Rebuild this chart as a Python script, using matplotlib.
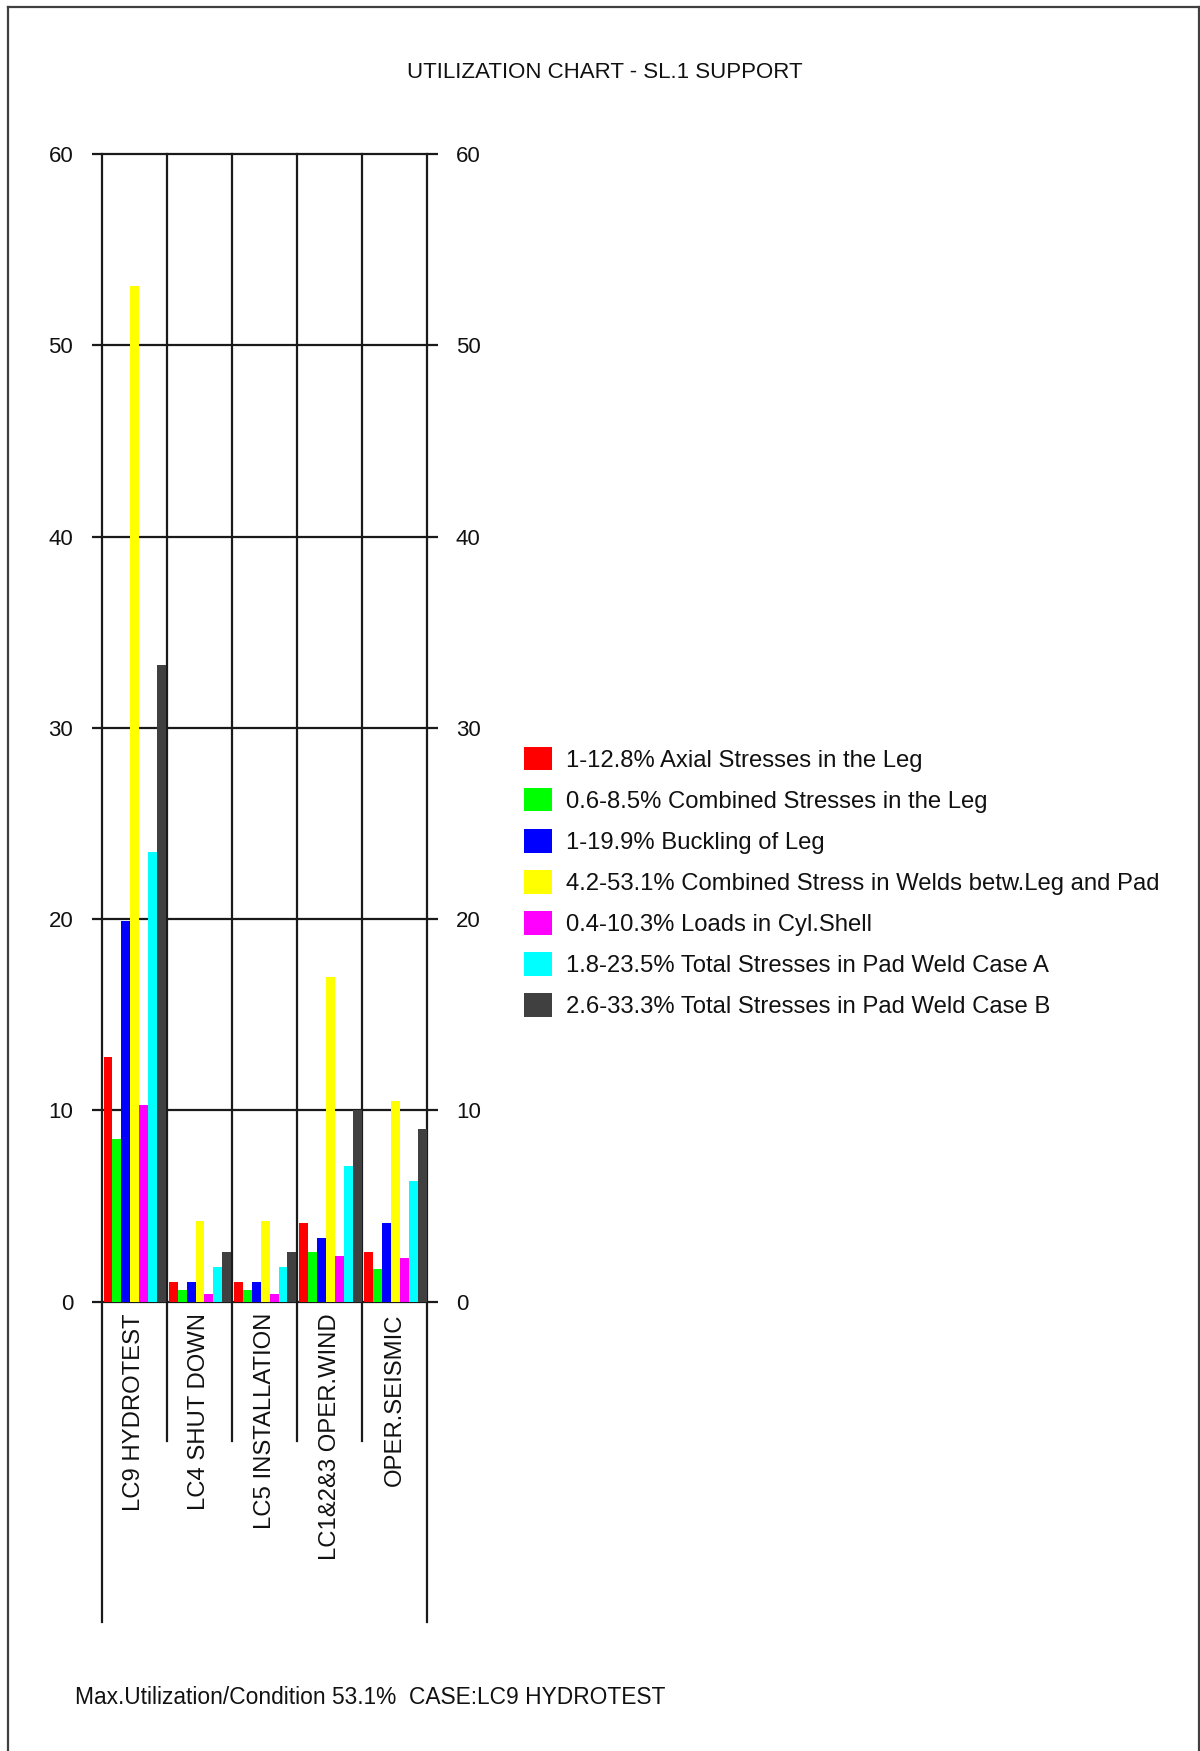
import matplotlib
matplotlib.use("Agg")
import matplotlib.pyplot as plt
import numpy as np

plt.rcParams["font.family"] = ["Liberation Sans", "DejaVu Sans"]

# ---- data -----------------------------------------------------------------
categories = ["LC9 HYDROTEST", "LC4 SHUT DOWN", "LC5 INSTALLATION",
              "LC1&2&3 OPER.WIND", "OPER.SEISMIC"]

series_names = ["Axial Stresses in the Leg",
                "Combined Stresses in the Leg",
                "Buckling of Leg",
                "Combined Stress in Welds betw.Leg and Pad",
                "Loads in Cyl.Shell",
                "Total Stresses in Pad Weld Case A",
                "Total Stresses in Pad Weld Case B"]

axial = [12.8, 1.0, 1.0, 4.1, 2.6]
combined_leg = [8.5, 0.6, 0.6, 2.6, 1.7]
buckling = [19.9, 1.0, 1.0, 3.3, 4.1]
weld_leg_pad = [53.1, 4.2, 4.2, 17.0, 10.5]
cyl_shell = [10.3, 0.4, 0.4, 2.4, 2.3]
pad_weld_a = [23.5, 1.8, 1.8, 7.1, 6.3]
pad_weld_b = [33.3, 2.6, 2.6, 10.0, 9.0]

y_ticks = [0, 10, 20, 30, 40, 50, 60]

series_values = [axial, combined_leg, buckling, weld_leg_pad,
                 cyl_shell, pad_weld_a, pad_weld_b]
series_colors = ["#ff0000", "#00ff00", "#0000ff", "#ffff00",
                 "#ff00ff", "#00ffff", "#404040"]

# ---- figure ---------------------------------------------------------------
W, H = 1200, 1751
fig = plt.figure(figsize=(W / 100, H / 100), dpi=100)
fs = 16
fs_legend = 17.2
fs_cat = 17.2
fs_note = 16.4
ink = "#111111"

def fx(px):
    return px / W

def fy(py):
    return 1 - py / H

ax_left, ax_right = 101.6, 427.5
ax_top, ax_bottom = 154.2, 1301.6
ax = fig.add_axes([fx(ax_left), fy(ax_bottom),
                   fx(ax_right) - fx(ax_left), fy(ax_top) - fy(ax_bottom)])
ax.set_xlim(-0.5, len(categories) - 0.5)
ax.set_ylim(0, 60)
for s in ax.spines.values():
    s.set_visible(False)

line_kw = dict(color="#1a1a1a", linewidth=1.6, clip_on=False, zorder=1)

# horizontal grid, extending slightly past both sides as tick marks
px_per_x = (ax_right - ax_left) / len(categories)
ext = 10 / px_per_x
ax.hlines(y_ticks, -0.5 - ext, len(categories) - 0.5 + ext, **line_kw)

# vertical category separators, running down through the label area
px_per_y = (ax_bottom - ax_top) / 60
inner_low = -(1441 - ax_bottom) / px_per_y
outer_low = -(1622 - ax_bottom) / px_per_y
bounds = np.arange(len(categories) + 1) - 0.5
for i, b in enumerate(bounds):
    low = outer_low if i in (0, len(bounds) - 1) else inner_low
    ax.plot([b, b], [60, low], **line_kw)

# grouped bars
bw = 0.137
x0 = np.arange(len(categories)) - 0.5 + 0.03
bars = []
for k, (vals, col, name) in enumerate(zip(series_values, series_colors, series_names)):
    label = f"{min(vals):g}-{max(vals):g}% {name}"
    b = ax.bar(x0 + k * bw, vals, width=bw, align="edge", color=col,
               linewidth=0, zorder=2, label=label)
    bars.append(b)

# y tick labels on both sides
ax.set_xticks([])
ax.set_yticks(y_ticks)
ax.set_yticklabels([str(t) for t in y_ticks])
ax.tick_params(axis="y", left=False, right=False, labelleft=True,
               labelright=True, labelsize=fs, pad=17, colors=ink)

# rotated category labels below the zero line
for i, c in enumerate(categories):
    ax.text(i, -(1313 - ax_bottom) / px_per_y, c, rotation=90, ha="center",
            va="top", fontsize=fs_cat, color=ink, clip_on=False)

# legend
fpx = fs_legend * 100 / 72
leg = fig.legend(handles=bars, loc="upper left",
                 bbox_to_anchor=(fx(523.5), fy(747)), frameon=False,
                 fontsize=fs_legend, handlelength=28 / fpx,
                 handleheight=27 / fpx, handletextpad=0.6,
                 labelspacing=0.68, borderpad=0, borderaxespad=0)
for t in leg.get_texts():
    t.set_color(ink)

# title and summary line
fig.text(fx(605), fy(72.5), "UTILIZATION CHART - SL.1 SUPPORT", ha="center",
         va="center", fontsize=fs, color=ink)

peak = max(max(v) for v in series_values)
peak_case = categories[int(np.argmax([max(v[i] for v in series_values)
                                      for i in range(len(categories))]))]
fig.text(fx(74.8), fy(1697),
         f"Max.Utilization/Condition {peak:g}%  CASE:{peak_case}",
         ha="left", va="center", fontsize=fs_note, color=ink)

# page frame: left, top and right edges
frame_kw = dict(color="#404040", linewidth=1.6, transform=fig.transFigure)
fig.add_artist(plt.Line2D([fx(8), fx(8)], [0, fy(7.5)], **frame_kw))
fig.add_artist(plt.Line2D([fx(8), fx(1199)], [fy(7.5), fy(7.5)], **frame_kw))
fig.add_artist(plt.Line2D([fx(1199), fx(1199)], [0, fy(7.5)], **frame_kw))

fig.savefig("out.png", dpi=100, facecolor="white")
